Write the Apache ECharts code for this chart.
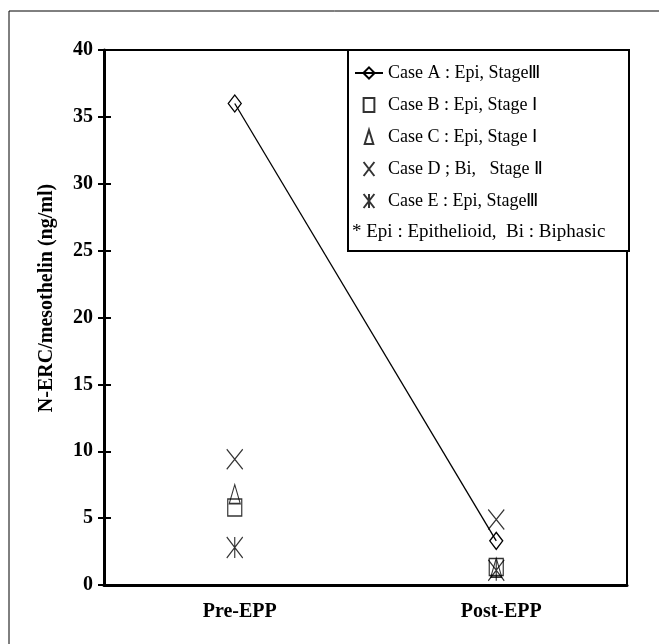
<!DOCTYPE html>
<html>
<head>
<meta charset="utf-8">
<script src="https://cdn.jsdelivr.net/npm/echarts@6/dist/echarts.min.js"></script>
<style>
  html, body { margin: 0; padding: 0; background: #fff; }
  #chart { width: 659px; height: 644px; }
</style>
</head>
<body>
<div id="chart"></div>
<script>
const categories = ["Pre-EPP", "Post-EPP"];
const caseNames = [
  "Case A : Epi, Stage\u2162",
  "Case B : Epi, Stage \u2160",
  "Case C : Epi, Stage \u2160",
  "Case D ; Bi,   Stage \u2161",
  "Case E : Epi, Stage\u2162",
];
const caseA = [36, 3.3];
const caseB = [5.8, 1.35];
const caseC = [6.8, 1.3];
const caseD = [9.4, 4.9];
const caseE = [2.8, 1.1];
const yTicks = { min: 0, max: 40, interval: 5 };
const yTitle = "N-ERC/mesothelin (ng/ml)";
const footnote = "* Epi : Epithelioid,  Bi : Biphasic";

const serif = '"Liberation Serif", "Times New Roman", serif';

const symbols = {
  diamond: "path://M5 0 L10 6.5 L5 13 L0 6.5 Z",
  square: "path://M0 0 L10 0 L10 13 L0 13 Z",
  triangle: "path://M4 0 L8 13 L0 13 Z",
  cross: "path://M0 0 L10 13 M10 0 L0 13",
  star: "path://M0 0 L10 13 M10 0 L0 13 M5 0 L5 13",
};

const hollow = { color: "rgba(0,0,0,0)", borderColor: "#000", borderWidth: 1.3 };

function scatter(name, data, symbol, size) {
  return {
    name: name,
    type: "scatter",
    data: data,
    symbol: symbol,
    symbolSize: size,
    itemStyle: hollow,
    z: 3,
  };
}

const chart = echarts.init(document.getElementById("chart"));

chart.setOption({
  animation: false,
  backgroundColor: "#fff",
  grid: {
    left: 104,
    right: 32,
    top: 50,
    bottom: 59,
    show: true,
    borderColor: "#000",
    borderWidth: 2,
  },
  xAxis: {
    type: "category",
    data: categories,
    boundaryGap: true,
    axisLine: { lineStyle: { color: "#000", width: 3 } },
    axisTick: { inside: true, length: 7, alignWithLabel: true, lineStyle: { color: "#000", width: 2 } },
    axisLabel: {
      color: "#000",
      fontFamily: serif,
      fontWeight: "bold",
      fontSize: 20,
      margin: 17,
      padding: [0, 0, 0, 10],
    },
  },
  yAxis: [
    {
      type: "value",
      min: yTicks.min,
      max: yTicks.max,
      interval: yTicks.interval,
      splitLine: { show: false },
      axisLine: { show: true, lineStyle: { color: "#000", width: 3 } },
      axisTick: { show: true, inside: true, length: 7, lineStyle: { color: "#000", width: 2 } },
      axisLabel: {
        color: "#000",
        fontFamily: serif,
        fontWeight: "bold",
        fontSize: 20,
        margin: 11,
      },
    },
    {
      type: "value",
      position: "left",
      min: yTicks.min,
      max: yTicks.max,
      interval: yTicks.interval,
      splitLine: { show: false },
      axisLine: { show: false },
      axisTick: { show: true, inside: false, length: 6, lineStyle: { color: "#000", width: 2 } },
      axisLabel: { show: false },
    },
  ],
  legend: {
    orient: "vertical",
    left: 349,
    top: 59,
    itemGap: 14,
    itemWidth: 28,
    itemHeight: 14,
    textStyle: {
      color: "#000",
      fontFamily: serif,
      fontSize: 18,
      lineHeight: 18,
    },
    data: caseNames,
  },
  graphic: [
    {
      type: "rect",
      shape: { x: 9, y: 11, width: 700, height: 700 },
      style: { fill: "none", stroke: "#000", lineWidth: 1 },
      silent: true,
    },
    {
      type: "rect",
      shape: { x: 348, y: 50, width: 281, height: 201 },
      style: { fill: "#fff", stroke: "#000", lineWidth: 2 },
      z: 1,
      silent: true,
    },
    {
      type: "text",
      left: 352,
      top: 223,
      z: 5,
      style: {
        text: footnote,
        fill: "#000",
        font: "19px " + serif,
      },
    },
    {
      type: "text",
      x: 47,
      y: 298,
      rotation: Math.PI / 2,
      z: 5,
      style: {
        text: yTitle,
        fill: "#000",
        font: "bold 20px " + serif,
        align: "center",
        verticalAlign: "middle",
      },
    },
  ],
  series: [
    {
      name: caseNames[0],
      type: "line",
      data: caseA,
      symbol: symbols.diamond,
      symbolSize: [13, 17],
      showAllSymbol: true,
      lineStyle: { color: "#000", width: 1.3 },
      itemStyle: hollow,
      z: 3,
    },
    scatter(caseNames[1], caseB, symbols.square, [14, 17]),
    scatter(caseNames[2], caseC, symbols.triangle, [11, 19]),
    scatter(caseNames[3], caseD, symbols.cross, [16, 20]),
    scatter(caseNames[4], caseE, symbols.star, [16, 21]),
  ],
});
</script>
</body>
</html>
